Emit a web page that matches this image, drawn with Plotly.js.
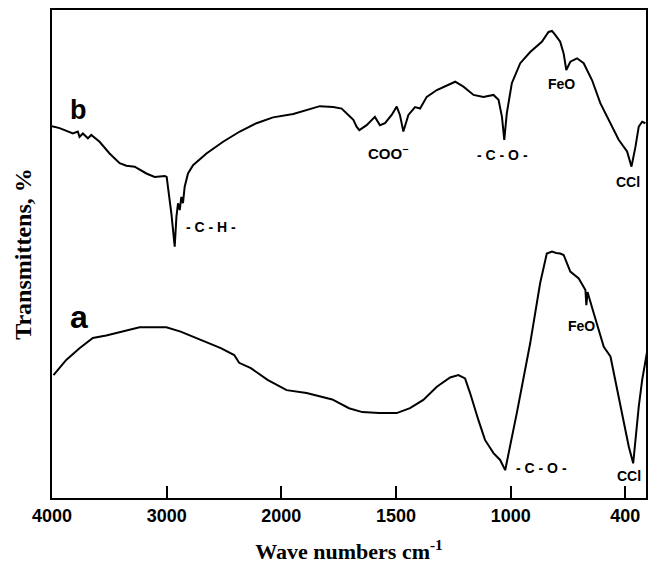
<!DOCTYPE html>
<html>
<head>
<meta charset="utf-8">
<script src="https://cdn.plot.ly/plotly-3.0.1.min.js"></script>
<style>html,body{margin:0;padding:0;background:#fff;}</style>
</head>
<body>
<div id="chart" style="width:656px;height:565px;"></div>
<script>
// Axis tick labels (wavenumbers, cm-1) - the original chart uses equally spaced ticks
const tickWavenumbers = [4000, 3000, 2000, 1500, 1000, 400];
const tickLabels = ["4000", "3000", "2000", "1500", "1000", "400"];

// Spectrum b (wavenumber cm-1, transmittance %)
const bWave = [4000, 3934, 3818, 3775, 3760, 3731, 3687, 3658, 3585, 3498, 3410, 3352, 3279, 3177, 3105, 3017, 3000,
  2959, 2930, 2915, 2901, 2886, 2872, 2858, 2843, 2814, 2770, 2653, 2508, 2362, 2217, 2072, 1948, 1890, 1832, 1774,
  1737, 1708, 1686, 1672, 1660, 1628, 1592, 1570, 1548, 1519, 1497, 1483, 1468, 1446, 1417, 1395, 1366, 1322, 1279,
  1242, 1206, 1162, 1119, 1075, 1053, 1038, 1028, 1017, 994, 950, 898, 837, 802, 784, 767, 741, 723, 709, 688, 653,
  618, 574, 531, 478, 435, 391, 368, 347, 330, 312, 295];
const bTrans = [76.2, 75.8, 74.7, 75.1, 74.0, 74.7, 73.7, 74.4, 73.0, 70.6, 68.6, 68.1, 67.9, 66.5, 65.8, 66.0, 65.8,
  58.3, 51.5, 57.6, 60.4, 59.0, 61.7, 60.4, 63.8, 66.5, 68.2, 70.6, 73.0, 75.1, 76.8, 78.0, 78.7, 79.5, 80.3, 80.1,
  79.8, 78.5, 77.5, 76.1, 75.4, 76.4, 78.1, 76.4, 76.8, 78.5, 80.2, 78.5, 75.1, 78.5, 80.1, 79.8, 82.2, 83.6, 84.6,
  85.3, 84.3, 82.6, 82.2, 82.6, 81.6, 78.1, 73.4, 78.8, 85.0, 89.1, 91.4, 93.5, 95.5, 95.7, 94.9, 93.5, 91.1, 87.7, 89.4, 90.1,
  89.1, 85.6, 80.9, 76.8, 73.4, 71.0, 67.9, 72.0, 76.1, 77.1, 76.8];

// Spectrum a
const aWave = [3987, 3876, 3760, 3644, 3527, 3397, 3236, 3003, 2878, 2703, 2528, 2411, 2368, 2266, 2120, 1977, 1890,
  1778, 1705, 1647, 1574, 1497, 1439, 1381, 1322, 1264, 1228, 1199, 1177, 1141, 1112, 1075, 1046, 1024, 968, 898,
  846, 811, 784, 762, 741, 723, 688, 644, 618, 609, 604, 598, 565, 513, 478, 426, 382, 359, 330, 312, 304, 286, 282];
const aTrans = [25.2, 28.3, 30.7, 32.8, 33.3, 34.1, 35.0, 35.0, 34.1, 32.4, 30.7, 29.3, 27.7, 26.6, 24.2, 22.1, 21.5,
  20.2, 18.4, 17.6, 17.4, 17.4, 18.4, 20.1, 22.8, 24.7, 25.2, 24.5, 21.5, 16.0, 11.9, 9.2, 7.8, 5.7, 17.4, 31.7,
  44.0, 50.1, 50.5, 50.2, 50.1, 49.8, 46.4, 45.0, 43.3, 42.6, 39.5, 42.2, 37.8, 31.0, 29.0, 18.7, 10.5, 7.1, 18.7, 24.2, 25.9, 30.0, 31.0];

// Band labels
const labelTexts = ["b", "a", "- C - H -", "COO<sup>\u2212</sup>", "- C - O -", "FeO", "CCl", "FeO", "- C - O -", "CCl"];

// piecewise map of wavenumber onto the equally-spaced tick scale
function toAxis(w) {
  const b = tickWavenumbers;
  for (let i = 0; i < b.length - 1; i++) {
    if (w >= b[i + 1]) return i + (b[i] - w) / (b[i] - b[i + 1]);
  }
  const n = b.length - 1;
  return (n - 1) + (b[n - 1] - w) / (b[n - 1] - b[n]);
}

const L = 52, R = 10, T = 10, B = 67, W = 656, H = 565;
const pw = W - L - R, ph = H - T - B;
function px(x) { return (x - L) / pw; }
function py(y) { return (H - B - y) / ph; }

const lineStyle = {color: "#000", width: 2};
const traces = [
  {x: bWave.map(toAxis), y: bTrans, mode: "lines", line: lineStyle, hoverinfo: "skip", showlegend: false},
  {x: aWave.map(toAxis), y: aTrans, mode: "lines", line: lineStyle, hoverinfo: "skip", showlegend: false}
];

const sans = "Liberation Sans, Arial, sans-serif";
const labelPos = [
  [78, 110, 27], [79, 317, 32], [211, 227, 14], [388, 152, 15], [502, 155, 14],
  [561, 84, 14], [628, 182, 14], [581, 326, 14], [541, 468, 14], [629, 476, 14]
];
const annotations = labelTexts.map((t, i) => ({
  text: "<b>" + t + "</b>", xref: "paper", yref: "paper",
  x: px(labelPos[i][0]), y: py(labelPos[i][1]), xanchor: "center", yanchor: "middle",
  showarrow: false, font: {family: sans, size: labelPos[i][2], color: "#000"}
}));

const layout = {
  width: W, height: H,
  margin: {l: L, r: R, t: T, b: B},
  paper_bgcolor: "#fff", plot_bgcolor: "#fff",
  xaxis: {
    range: [0, 5.18], showgrid: false, zeroline: false,
    showline: true, mirror: true, linecolor: "#000", linewidth: 2,
    ticks: "inside", ticklen: 12, tickwidth: 2, tickcolor: "#000",
    tickmode: "array", tickvals: tickWavenumbers.map(toAxis), ticktext: tickLabels,
    tickfont: {family: sans, size: 18, color: "#000", weight: "bold"},
    title: {text: "<b>Wave numbers cm<sup>-1</sup></b>", font: {family: "Liberation Serif, Times New Roman, serif", size: 22, color: "#000"}, standoff: 19}
  },
  yaxis: {
    range: [0, 100], showgrid: false, zeroline: false,
    showline: true, mirror: true, linecolor: "#000", linewidth: 2,
    ticks: "", showticklabels: false,
    title: {text: "<b>Transmittens, %</b>", font: {family: "Liberation Serif, Times New Roman, serif", size: 24, color: "#000"}, standoff: 12}
  },
  annotations: annotations
};

Plotly.newPlot("chart", traces, layout, {displayModeBar: false, staticPlot: true});
</script>
</body>
</html>
